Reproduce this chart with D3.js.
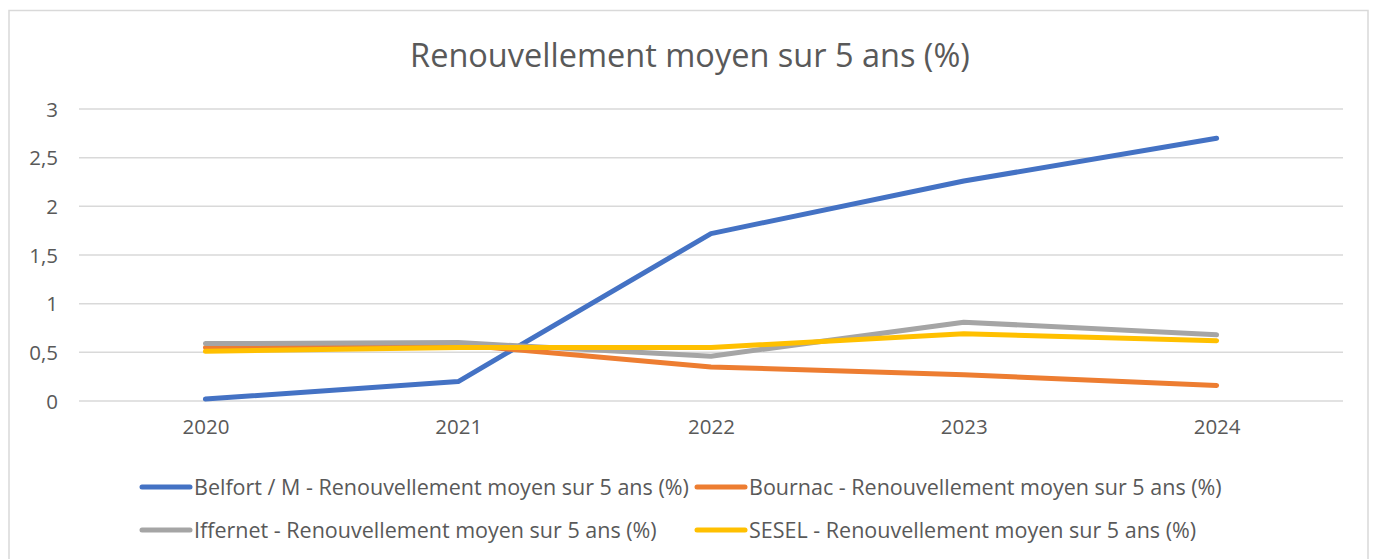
<!DOCTYPE html>
<html>
<head>
<meta charset="utf-8">
<script src="https://cdn.jsdelivr.net/npm/d3@7"></script>
<style>
  body { margin: 0; background: #fff; }
  svg text { font-family: "Open Sans", "Liberation Sans", sans-serif; fill: #595959; }
</style>
</head>
<body>
<div id="chart"></div>
<script>
// data
const years = ["2020", "2021", "2022", "2023", "2024"];
const belfort = [0.02, 0.2, 1.72, 2.26, 2.7];
const bournac = [0.55, 0.58, 0.35, 0.27, 0.16];
const iffernet = [0.59, 0.6, 0.46, 0.81, 0.68];
const sesel = [0.51, 0.55, 0.55, 0.69, 0.62];
const seriesNames = [
  "Belfort / M - Renouvellement moyen sur 5 ans (%)",
  "Bournac - Renouvellement moyen sur 5 ans (%)",
  "Iffernet - Renouvellement moyen sur 5 ans (%)",
  "SESEL - Renouvellement moyen sur 5 ans (%)",
];
const yTicks = [0, 0.5, 1, 1.5, 2, 2.5, 3];
const chartTitle = "Renouvellement moyen sur 5 ans (%)";

const colors = ["#4472C4", "#ED7D31", "#A5A5A5", "#FFC000"];
const series = [belfort, bournac, iffernet, sesel].map((v, i) => ({
  name: seriesNames[i],
  color: colors[i],
  values: v,
}));

const width = 1375;
const height = 559;
const plot = { left: 79, right: 1343, top: 109, bottom: 401 };

const svg = d3
  .select("#chart")
  .append("svg")
  .attr("width", width)
  .attr("height", height);

// chart frame
svg
  .append("rect")
  .attr("x", 9)
  .attr("y", 10.5)
  .attr("width", 1359)
  .attr("height", 560)
  .attr("fill", "#fff")
  .attr("stroke", "#d9d9d9")
  .attr("stroke-width", 1.5);

// title
svg
  .append("text")
  .attr("x", 690)
  .attr("y", 67)
  .attr("text-anchor", "middle")
  .style("font-size", "32.5px")
  .text(chartTitle);

// scales
const x = d3
  .scalePoint()
  .domain(years)
  .range([plot.left, plot.right])
  .padding(0.5);
const y = d3.scaleLinear().domain([0, 3]).range([plot.bottom, plot.top]);

// gridlines
svg
  .append("g")
  .selectAll("line")
  .data(yTicks)
  .join("line")
  .attr("x1", plot.left)
  .attr("x2", plot.right)
  .attr("y1", (d) => y(d))
  .attr("y2", (d) => y(d))
  .attr("stroke", "#d9d9d9")
  .attr("stroke-width", 1.5);

// y axis labels
const yAxis = svg
  .append("g")
  .attr("transform", `translate(${plot.left - 21},0)`)
  .call(
    d3
      .axisLeft(y)
      .tickValues(yTicks)
      .tickSize(0)
      .tickPadding(0)
      .tickFormat((d) => String(d).replace(".", ","))
  );
yAxis.select(".domain").remove();
yAxis.selectAll("text").style("font-size", "20.5px").attr("dy", "0.35em");

// x axis labels
const xAxis = svg
  .append("g")
  .attr("transform", `translate(0,${plot.bottom + 18})`)
  .call(d3.axisBottom(x).tickSize(0).tickPadding(0));
xAxis.select(".domain").remove();
xAxis.selectAll("text").style("font-size", "20.5px").attr("dy", "0.75em");

// lines
const line = d3
  .line()
  .x((d, i) => x(years[i]))
  .y((d) => y(d));

svg
  .append("g")
  .selectAll("path")
  .data(series)
  .join("path")
  .attr("d", (d) => line(d.values))
  .attr("fill", "none")
  .attr("stroke", (d) => d.color)
  .attr("stroke-width", 5)
  .attr("stroke-linecap", "round")
  .attr("stroke-linejoin", "round");

// legend, two columns
const legendCols = [142, 697];
const legendRows = [487, 530];
const legend = svg
  .append("g")
  .selectAll("g")
  .data(series)
  .join("g")
  .attr(
    "transform",
    (d, i) => `translate(${legendCols[i % 2]},${legendRows[Math.floor(i / 2)]})`
  );

legend
  .append("line")
  .attr("x1", 0)
  .attr("x2", 48)
  .attr("stroke", (d) => d.color)
  .attr("stroke-width", 5)
  .attr("stroke-linecap", "round");

legend
  .append("text")
  .attr("x", 52)
  .attr("dy", "0.35em")
  .style("font-size", "21.5px")
  .text((d) => d.name);
</script>
</body>
</html>
